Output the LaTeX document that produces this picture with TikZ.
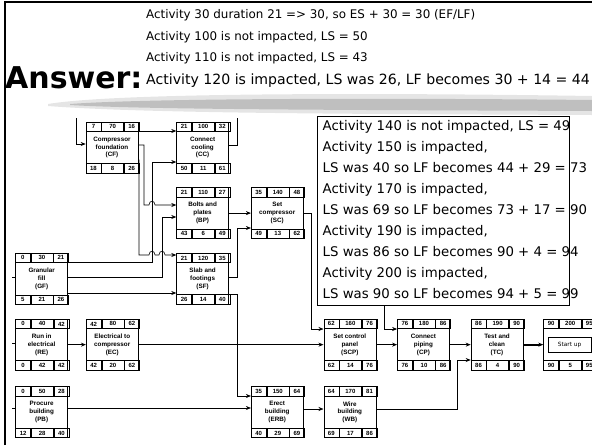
\documentclass[tikz,border=0pt]{standalone}
\usepackage{fontspec}
\setmainfont{DejaVu Sans}
\newfontfamily\boxfont{Liberation Sans}
\usepackage{tikz}
\usetikzlibrary{arrows.meta, positioning}

\newcommand{\actnode}[9][]{%
  \node[actbox, #1] (#2) {#3};
  \node[cell, minimum width=15pt, anchor=north west] (#2-es) at (#2.north west) {#4};
  \node[cell, minimum width=22pt, anchor=north west] (#2-id) at (#2-es.north east) {#5};
  \node[cell, minimum width=15pt, anchor=north west] (#2-ef) at (#2-id.north east) {#6};
  \node[cell, minimum width=15pt, anchor=south west] (#2-ls) at (#2.south west) {#7};
  \node[cell, minimum width=22pt, anchor=south west] (#2-du) at (#2-ls.south east) {#8};
  \node[cell, minimum width=15pt, anchor=south west] (#2-lf) at (#2-du.south east) {#9};
}

\begin{document}
\begin{tikzpicture}[
  x=1pt, y=-1pt,
  node distance=14pt and 20pt,
  actbox/.style={rectangle, draw=black, fill=white, line width=0.6pt,
                 minimum width=52pt, minimum height=51pt, inner sep=0pt,
                 align=center, font=\boxfont\bfseries\fontsize{6.3}{7.8}\selectfont},
  cell/.style={rectangle, draw=black, line width=0.6pt, minimum height=9.5pt,
               inner sep=0pt, font=\boxfont\bfseries\fontsize{6}{6}\selectfont},
  startbox/.style={rectangle, draw=black, line width=0.6pt, minimum width=43pt,
                   minimum height=15pt, font=\fontsize{5.8}{6}\selectfont},
  notebox/.style={rectangle, draw=black, fill=white, line width=0.9pt,
                  minimum width=252pt, minimum height=189pt, anchor=north west},
  notetext/.style={anchor=north west, inner sep=0pt, align=left,
                   font=\fontsize{13.3}{21}\selectfont},
  toptext/.style={anchor=base west, inner sep=0pt, font=\fontsize{11.9}{14}\selectfont},
  arrow/.style={-{Stealth[length=5pt, width=4pt]}, line width=0.6pt},
  crit/.style={arrow, line width=1.3pt},
  plain/.style={line width=0.6pt},
]
  \useasboundingbox (0,0) rectangle (592,445);
  \draw[line width=2.5pt] (5,445) -- (5,2) -- (592,2);

  \node[anchor=base west, inner sep=0pt, font=\fontsize{30}{30}\selectfont\bfseries] (answer) at (5,88) {Answer:};
  \node[toptext] (line1) at (146,18.5) {Activity 30 duration 21 => 30, so ES + 30 = 30 (EF/LF)};
  \node[toptext] (line2) at (146,40.5) {Activity 100 is not impacted, LS = 50};
  \node[toptext] (line3) at (146,61.5) {Activity 110 is not impacted, LS = 43};
  \node[toptext, font=\fontsize{14.1}{16}\selectfont] (line4) at (146,84) {Activity 120 is impacted, LS was 26, LF becomes 30 + 14 = 44};

  \fill[gray!20] (48,104) .. controls (120,92) and (400,93) .. (592,96) -- (592,115)
    .. controls (400,114) and (150,114) .. (48,106) -- cycle;
  \fill[gray!50] (70,104) .. controls (150,98) and (400,98) .. (592,100) -- (592,111)
    .. controls (400,110) and (150,110) .. (70,105) -- cycle;

  \actnode[at={(112,147.5)}]{cf}{Compressor\\foundation\\(CF)}{7}{70}{16}{18}{8}{26}
  \actnode[right=38pt of cf]{cc}{Connect\\cooling\\(CC)}{21}{100}{32}{50}{11}{61}
  \actnode[below=of cc]{bp}{Bolts and\\plates\\(BP)}{21}{110}{27}{43}{6}{49}
  \actnode[right=22pt of bp]{sc}{Set\\compressor\\(SC)}{35}{140}{48}{49}{13}{62}
  \actnode[below=of bp]{sf}{Slab and\\footings\\(SF)}{21}{120}{35}{26}{14}{40}
  \actnode[left=108pt of sf, line width=1.3pt]{gf}{Granular\\fill\\(GF)}{0}{30}{21}{5}{21}{26}
  \actnode[below=of gf]{re}{Run in\\electrical\\(RE)}{0}{40}{42}{0}{42}{42}
  \actnode[right=18pt of re]{ec}{Electrical to\\compressor\\(EC)}{42}{80}{62}{42}{20}{62}
  \actnode[below=16pt of re]{pb}{Procure\\building\\(PB)}{0}{50}{28}{12}{28}{40}
  \actnode[at={(sc |- pb)}]{erb}{Erect\\building\\(ERB)}{35}{150}{64}{40}{29}{69}
  \actnode[right=of erb]{wb}{Wire\\building\\(WB)}{64}{170}{81}{69}{17}{86}
  \actnode[above=16pt of wb]{scp}{Set control\\panel\\(SCP)}{62}{160}{76}{62}{14}{76}
  \actnode[right=21pt of scp]{cp}{Connect\\piping\\(CP)}{76}{180}{86}{76}{10}{86}
  \actnode[right=21pt of cp]{tc}{Test and\\clean\\(TC)}{86}{190}{90}{86}{4}{90}
  \actnode[right=20pt of tc]{su}{}{90}{200}{95}{90}{5}{95}
  \node[startbox] (suin) at (su) {Start up};

  \coordinate (cftop) at (76,118);
  \coordinate (cctop) at (237,118);
  \coordinate (gfin) at (12,277);
  \coordinate (rein) at (12,343);
  \coordinate (pbin) at (12,408);

  \draw[arrow] (cftop) |- (cf.west |- 0,144);
  \draw[arrow] (cf.east |- 0,131) -- (cc.west |- 0,131);
  \draw[plain] (cc.east |- 0,145) -| (cctop);
  \draw[arrow] (cf.east |- 0,145) -- (144,145) -- (144,205) -- (149,205)
    .. controls (149,200) and (155,200) .. (155,205) -- (bp.west |- 0,205);
  \draw[arrow] (cf.east |- 0,160) -| (139,255) -- (149,255)
    .. controls (149,250) and (155,250) .. (155,255) -- (159,255)
    .. controls (159,250) and (165,250) .. (165,255) -- (sf.west |- 0,255);
  \draw[arrow] (gf.east |- 0,262) -| (152,162) -- (cc.west |- 0,162);
  \draw[arrow] (gf.east |- 0,277) -| (162,217) -- (bp.west |- 0,217);
  \draw[arrow] (gf.east |- 0,293) -- (sf.west |- 0,293);
  \draw[plain] (gfin) -- (gf.west |- gfin);
  \draw[arrow] (bp) -- (sc);
  \draw[arrow] (sf.east |- 0,277) -| (237,228) -- (sc.west |- 0,228);
  \draw[arrow] (sf.east |- 0,294) -| (237,396) -- (erb.west |- 0,396);
  \draw[arrow] (sc.east) -| (311,329) -- (scp.west |- 0,329);
  \draw[plain] (rein) -- (re.west |- rein);
  \draw[crit] (re) -- (ec);
  \draw[crit] (ec) -- (scp);
  \draw[crit] (scp) -- (cp);
  \draw[crit] (cp) -- (tc);
  \draw[crit, line width=2pt] (tc) -- (su);
  \draw[plain] (pbin) -- (pb.west |- pbin);
  \draw[arrow] (pb.east |- 0,408) -- (erb.west |- 0,408);
  \draw[arrow] (erb.east |- 0,409) -- (wb.west |- 0,409);
  \draw[arrow] (wb.east |- 0,409) -| (457,360) -- (tc.west |- 0,360);

  \node[notebox] (notes) at (317,116) {};
  \coordinate (notecp) at (notes.south -| 384,0);
  \draw[arrow] (notecp) |- (cp.west |- 0,329);
  \node[notetext] (notelines) at (322.5,120.5) {Activity 140 is not impacted, LS = 49\\
    Activity 150 is impacted,\\
    LS was 40 so LF becomes 44 + 29 = 73\\
    Activity 170 is impacted,\\
    LS was 69 so LF becomes 73 + 17 = 90\\
    Activity 190 is impacted,\\
    LS was 86 so LF becomes 90 + 4 = 94\\
    Activity 200 is impacted,\\
    LS was 90 so LF becomes 94 + 5 = 99};
\end{tikzpicture}
\end{document}
